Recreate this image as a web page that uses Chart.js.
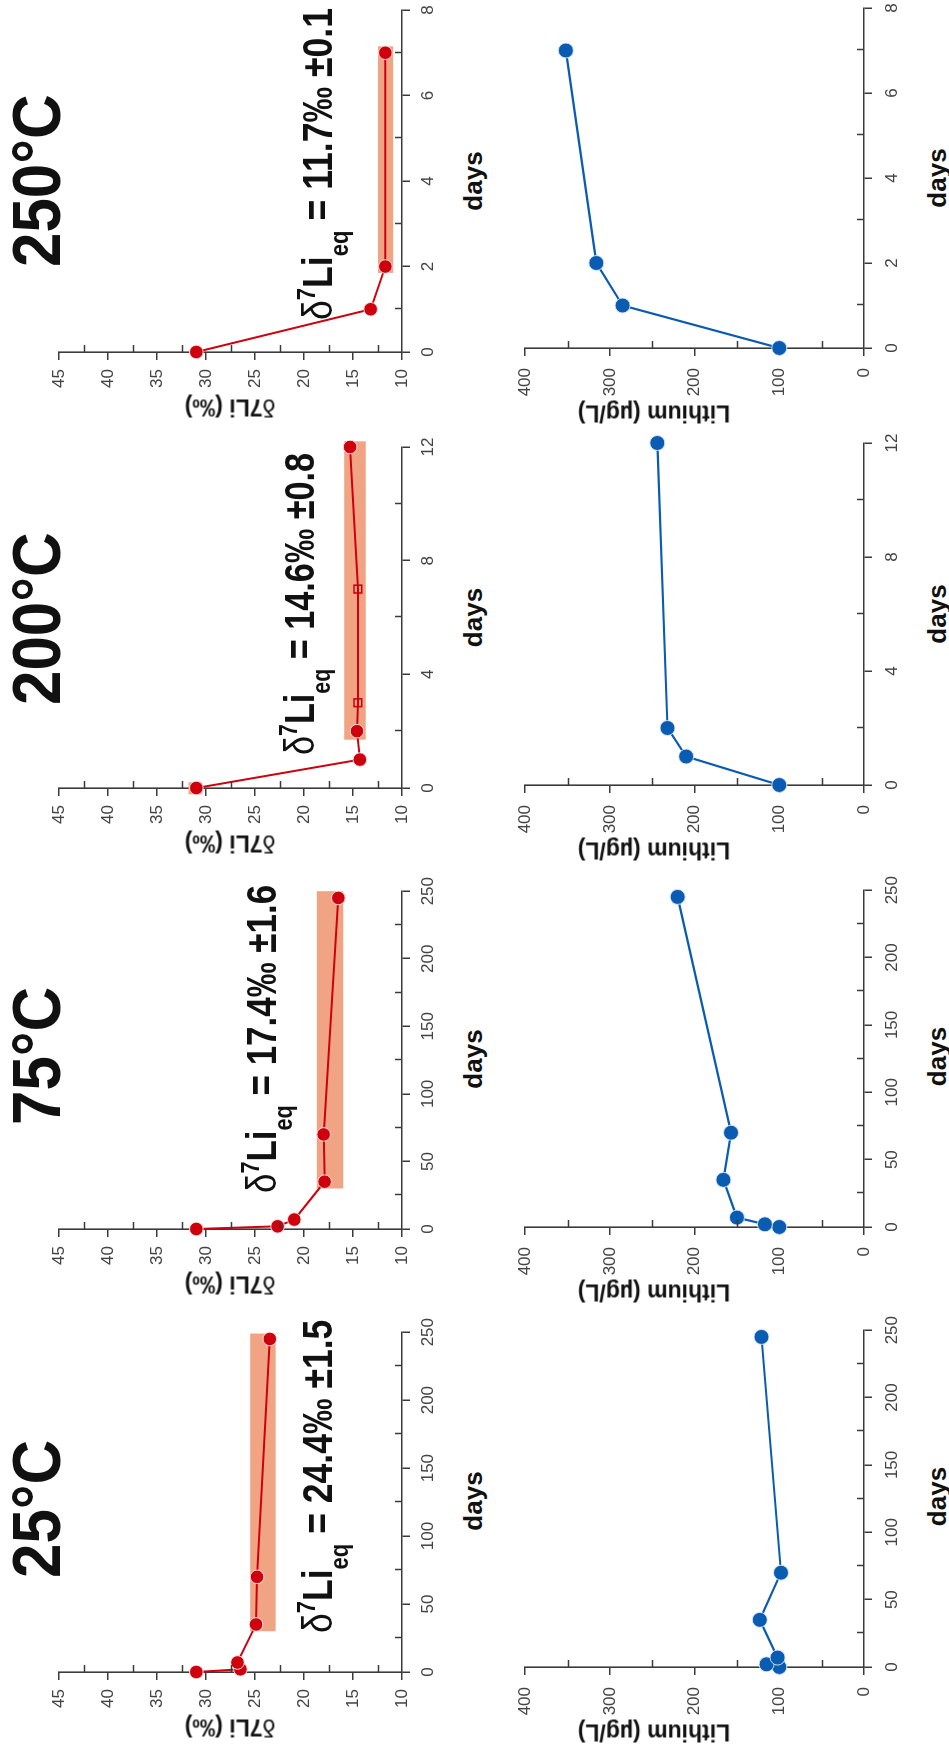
<!DOCTYPE html>
<html><head><meta charset="utf-8">
<script src="https://cdn.jsdelivr.net/npm/chart.js@4.4.1/dist/chart.umd.min.js"></script>
<style>
html,body{margin:0;padding:0;width:949px;height:1753px;overflow:hidden;background:#fff;}
#fig{position:absolute;left:0;top:0;width:1753px;height:949px;transform-origin:0 0;transform:translate(0px,1753px) rotate(-90deg);background:#fff;font-family:"Liberation Sans",Arial,sans-serif;color:#111;}
#fig canvas{position:absolute;}
.t{position:absolute;white-space:nowrap;line-height:1;}
.sup{font-size:0.62em;position:relative;top:-0.68em;}
.sub{font-size:0.62em;position:relative;top:0.58em;}
</style></head><body><div id="fig"></div>
<script>
// ---------------- data ----------------
const temps = ['25°C', '75°C', '200°C', '250°C'];
const eqValue = ['24.4', '17.4', '14.6', '11.7'];
const eqError = ['1.5', '1.6', '0.8', '0.1'];

const days25 = [0, 2, 7, 35, 70, 245];
const d7Li25 = [31.0, 26.5, 26.8, 24.9, 24.8, 23.5];
const li25   = [100, 115, 102, 123, 98, 121];

const days75 = [0, 2, 7, 35, 70, 245];
const d7Li75 = [31.0, 22.7, 21.0, 17.9, 18.0, 16.5];
const li75   = [100, 117, 150, 166, 157, 220];

const days200   = [0, 1, 2, 3, 7, 12];
const d7Li200   = [31.0, 14.3, 14.6, 14.5, 14.5, 15.3];
const marker200 = ['circle', 'circle', 'circle', 'rect', 'rect', 'circle'];
const daysLi200 = [0, 1, 2, 12];
const li200     = [100, 210, 232, 244];

const days250 = [0, 1, 2, 7];
const d7Li250 = [31.0, 13.2, 11.7, 11.7];
const li250   = [100, 285, 316, 352];

// equilibrium bands (days range, δ7Li range)
const band25Days = [30, 249],   band25Range = [22.9, 25.5];
const band75Days = [30, 250],   band75Range = [16.0, 18.7];
const band200Days = [1.7, 12.2], band200Range = [13.7, 15.9];
const band200bDays = [-0.22, 0.2], band200bRange = [30.4, 31.8];
const band250Days = [1.85, 7.15], band250Range = [10.9, 12.45];

// tick labels
const dayTicksLong = [0, 50, 100, 150, 200, 250];
const dayTicks200  = [0, 4, 8, 12];
const dayTicks250  = [0, 2, 4, 6, 8];
const d7LiTicks    = [10, 15, 20, 25, 30, 35, 40, 45];
const liTicks      = [0, 100, 200, 300, 400];

// ---------------- drawing ----------------
const fig = document.getElementById('fig');
const AX = '#3a3a3a', TICKC = '#444';
const RED = 'rgb(206,0,14)', BLUE = 'rgb(10,92,178)', BAND = 'rgb(240,164,132)';
Chart.defaults.font.family = '"Liberation Sans", Arial, sans-serif';

function isIn(list, v){ return list.some(m => Math.abs(m - v) < 1e-6); }

function txt(html, css){
  const d = document.createElement('div');
  d.className = 't'; d.innerHTML = html;
  Object.assign(d.style, css);
  fig.appendChild(d);
  return d;
}

function axisOpts(ticks, pad, fit){
  return {
    type: 'linear',
    min: ticks[0], max: ticks[ticks.length - 1],
    afterFit: fit,
    ticks: {
      stepSize: (ticks[1] - ticks[0]) / 2, autoSkip: false, maxRotation: 0, minRotation: 0,
      padding: pad, color: TICKC, font: {size: 17},
      callback: v => isIn(ticks, v) ? String(v) : ''
    },
    grid: {
      drawOnChartArea: false, drawTicks: true, tickLength: 8, lineWidth: 1.5,
      color: c => (c.tick && isIn(ticks, c.tick.value)) ? AX : 'rgba(0,0,0,0)'
    },
    border: {display: true, color: AX, width: 1.6}
  };
}

function makeChart(p){
  const yW = 75, xH = 55, padTop = 19, padRight = 20;
  const cv = document.createElement('canvas');
  const w = p.x1 - p.x0 + yW + padRight;
  const h = p.yBot - (p.yTop - padTop) + xH;
  cv.width = w; cv.height = h;
  cv.style.width = w + 'px'; cv.style.height = h + 'px';
  cv.style.left = (p.x0 - yW) + 'px';
  cv.style.top = (p.yTop - padTop) + 'px';
  fig.appendChild(cv);

  const bandPlugin = {
    id: 'bands',
    beforeDatasetsDraw(chart){
      const {ctx} = chart, xs = chart.scales.x, ys = chart.scales.y;
      ctx.save(); ctx.fillStyle = BAND;
      (p.bands || []).forEach(b => {
        const a = xs.getPixelForValue(b.days[0]), c = xs.getPixelForValue(b.days[1]);
        const t = ys.getPixelForValue(b.range[1]), u = ys.getPixelForValue(b.range[0]);
        ctx.fillRect(a, t, c - a, u - t);
      });
      ctx.restore();
    }
  };
  const minorPlugin = {
    id: 'minorTicks',
    afterDatasetsDraw(chart){
      const {ctx, chartArea: ca} = chart, xs = chart.scales.x, ys = chart.scales.y;
      ctx.save(); ctx.strokeStyle = AX; ctx.lineWidth = 1.5;
      xs.ticks.forEach(t => {
        if (isIn(p.xTicks, t.value)) return;
        const px = Math.round(xs.getPixelForValue(t.value)) + 0.5;
        ctx.beginPath(); ctx.moveTo(px, ca.bottom); ctx.lineTo(px, ca.bottom - 7); ctx.stroke();
      });
      ys.ticks.forEach(t => {
        if (isIn(p.yTicks, t.value)) return;
        const py = Math.round(ys.getPixelForValue(t.value)) + 0.5;
        ctx.beginPath(); ctx.moveTo(ca.left, py); ctx.lineTo(ca.left + 7, py); ctx.stroke();
      });
      ctx.restore();
    }
  };

  new Chart(cv, {
    type: 'line',
    data: {datasets: p.datasets},
    options: {
      responsive: false, animation: false, events: [], devicePixelRatio: 1,
      layout: {padding: {left: 0, top: padTop, right: padRight, bottom: 0}},
      plugins: {legend: {display: false}, tooltip: {enabled: false}},
      scales: {
        x: Object.assign(axisOpts(p.xTicks, p.xPad, s => { s.height = xH; }), {position: 'bottom'}),
        y: Object.assign(axisOpts(p.yTicks, p.yPad, s => { s.width = yW; }), {position: 'left'})
      }
    },
    plugins: [bandPlugin, minorPlugin]
  });
}

function redSet(days, vals, markers){
  const m = markers || days.map(() => 'circle');
  return [{
    data: days.map((d, i) => ({x: d, y: vals[i]})),
    borderColor: RED, borderWidth: 2, tension: 0, clip: false, fill: false,
    pointStyle: m,
    pointRadius: m.map(s => s === 'rect' ? 5.5 : 6.8),
    pointBackgroundColor: m.map(s => s === 'rect' ? 'rgba(0,0,0,0)' : RED),
    pointBorderColor: m.map(s => s === 'rect' ? RED : 'rgba(255,235,235,0.9)'),
    pointBorderWidth: m.map(s => s === 'rect' ? 1.6 : 1)
  }];
}
function blueSet(days, vals){
  return [{
    data: days.map((d, i) => ({x: d, y: vals[i]})),
    borderColor: BLUE, borderWidth: 2.2, tension: 0, clip: false, fill: false,
    pointRadius: 7.5, pointBackgroundColor: BLUE,
    pointBorderColor: 'rgba(225,235,250,0.9)', pointBorderWidth: 1
  }];
}

// panel layout (original orientation: width 1753, height 949)
const topBoxes = [[81, 423], [524, 864], [965, 1306], [1401, 1743]];
const botBoxes = [[86, 427], [526, 867], [968, 1310], [1405, 1745]];
const xTickSets = [dayTicksLong, dayTicksLong, dayTicks200, dayTicks250];

const topData = [
  redSet(days25, d7Li25),
  redSet(days75, d7Li75),
  redSet(days200, d7Li200, marker200),
  redSet(days250, d7Li250)
];
const topBands = [
  [{days: band25Days, range: band25Range}],
  [{days: band75Days, range: band75Range}],
  [{days: band200Days, range: band200Range}, {days: band200bDays, range: band200bRange}],
  [{days: band250Days, range: band250Range}]
];
const botData = [
  blueSet(days25, li25),
  blueSet(days75, li75),
  blueSet(daysLi200, li200),
  blueSet(days250, li250)
];

const titleX = [175, 628, 1048, 1486];
const eqX = [120, 560, 998, 1433];
const eqBase = [333, 277, 315, 333];
const eqW = [313, 308, 302, 312];

for (let i = 0; i < 4; i++){
  const [tx0, tx1] = topBoxes[i];
  makeChart({x0: tx0, x1: tx1, yTop: 59, yBot: 402, xTicks: xTickSets[i], yTicks: d7LiTicks,
             xPad: 8, yPad: 9, datasets: topData[i], bands: topBands[i]});
  const [bx0, bx1] = botBoxes[i];
  makeChart({x0: bx0, x1: bx1, yTop: 522, yBot: 864, xTicks: xTickSets[i], yTicks: liTicks,
             xPad: 10, yPad: 12, datasets: botData[i], bands: []});

  // big temperature title
  txt(temps[i], {left: titleX[i] + 'px', top: (60 - 0.8465 * 68) + 'px', fontSize: '68px',
                 fontWeight: 'bold', transform: 'scaleX(0.91)', transformOrigin: '0 0'});
  // equilibrium annotation
  const a = txt('<span style="font-weight:normal">δ</span><span class="sup">7</span>Li<span class="sub">eq</span> = ' +
                eqValue[i] + '‰ ±' + eqError[i],
                {left: eqX[i] + 'px', top: (eqBase[i] - 0.8465 * 42) + 'px', fontSize: '42px',
                 fontWeight: 'bold', transformOrigin: '0 0'});
  a.style.transform = 'scaleX(' + (eqW[i] / a.offsetWidth).toFixed(3) + ')';

  // axis titles
  txt('<span style="font-weight:normal">δ</span>7Li (‰)', {left: (tx0 - 55) + 'px', top: '230px', fontSize: '23px',
      fontWeight: 'bold', transform: 'translate(-50%,-50%) rotate(-90deg)'});
  txt('Lithium (µg/L)', {left: (bx0 - 65) + 'px', top: '654px', fontSize: '23px',
      fontWeight: 'bold', transform: 'translate(-50%,-50%) rotate(-90deg)'});
  txt('days', {left: ((tx0 + tx1) / 2) + 'px', top: '473px', fontSize: '26px', fontWeight: 'bold',
      transform: 'translate(-50%,-50%)'});
  txt('days', {left: ((bx0 + bx1) / 2) + 'px', top: '937px', fontSize: '26px', fontWeight: 'bold',
      transform: 'translate(-50%,-50%)'});
}
</script></body></html>
